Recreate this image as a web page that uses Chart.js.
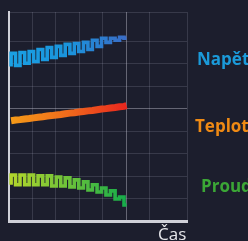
<!DOCTYPE html>
<html>
<head>
<meta charset="utf-8">
<script src="https://cdn.jsdelivr.net/npm/chart.js@4/dist/chart.umd.min.js"></script>
<style>
  html, body { margin: 0; padding: 0; background: #1c1e2d; overflow: hidden; }
  #obal { position: relative; width: 248px; height: 241px; }
  canvas { position: absolute; left: 0; top: 0; }
  .popis { position: absolute; font-family: "Open Sans", sans-serif; font-weight: bold; font-size: 17px; line-height: 17px; white-space: nowrap; }
  #cas { position: absolute; left: 158px; top: 225px; font-family: "Open Sans", sans-serif; font-size: 17px; line-height: 17px; color: #e6e6ea; }
</style>
</head>
<body>
<div id="obal">
  <canvas id="graf" width="248" height="241"></canvas>
  <div class="popis" style="left:197px; top:50px; color:#1b9ad9;">Napětí</div>
  <div class="popis" style="left:195px; top:117px; color:#ef8a14;">Teplota</div>
  <div class="popis" style="left:201px; top:177px; color:#3ba636;">Proud</div>
  <div id="cas">Čas</div>
</div>
<script>
// --- DATA (časová osa a průběhy) ---
const casy = [0.09, 0.28, 0.47, 0.67, 0.86, 1.05, 1.24, 1.44, 1.63, 1.82, 2.02, 2.21, 2.40, 2.60,
              2.79, 2.98, 3.18, 3.37, 3.56, 3.76, 3.95, 4.14, 4.33, 4.53, 4.72, 4.91, 5.02];
const napeti = [6.88, 7.46, 6.92, 7.50, 7.02, 7.54, 7.10, 7.63, 7.19, 7.72, 7.28, 7.77, 7.37, 7.86,
                7.46, 7.90, 7.54, 7.95, 7.63, 8.04, 7.77, 8.13, 7.95, 8.13, 8.04, 8.17, 8.13];
const teplota = [4.46, 4.49, 4.51, 4.54, 4.56, 4.59, 4.62, 4.64, 4.67, 4.69, 4.72, 4.74, 4.77, 4.80,
                 4.82, 4.85, 4.87, 4.90, 4.92, 4.95, 4.98, 5.00, 5.03, 5.05, 5.08, 5.10, 5.13];
const proud = [1.61, 2.05, 1.61, 2.05, 1.61, 2.05, 1.61, 2.01, 1.61, 2.01, 1.56, 1.96, 1.56, 1.92,
               1.52, 1.83, 1.47, 1.74, 1.38, 1.61, 1.29, 1.47, 1.16, 1.34, 0.98, 1.07, 0.71];

const bodySerie = (hodnoty) => hodnoty.map((v, i) => ({ x: casy[i], y: v }));

// přechod barvy zleva doprava podél průběhu
function prechod(barvy) {
    return function(context) {
        const chart = context.chart;
        if (!chart.chartArea) return barvy[0];
        const x0 = chart.scales.x.getPixelForValue(casy[0]);
        const x1 = chart.scales.x.getPixelForValue(casy[casy.length - 1]);
        const g = chart.ctx.createLinearGradient(x0, 0, x1, 0);
        barvy.forEach((b, i) => g.addColorStop(i / (barvy.length - 1), b));
        return g;
    };
}

const barvaMrizky = (ctx) => ctx.tick && ctx.tick.value === 5 ? 'rgba(220,220,235,0.38)' : 'rgba(200,200,225,0.16)';

new Chart(document.getElementById('graf'), {
    type: 'line',
    data: {
        datasets: [
            { label: 'Napětí', data: bodySerie(napeti), stepped: 'after', borderWidth: 3.6,
              borderColor: prechod(['#1aa0e2', '#1a94dc', '#3a6cc6']) },
            { label: 'Teplota', data: bodySerie(teplota), borderWidth: 7, tension: 0,
              borderColor: prechod(['#f49a18', '#f06a1c', '#e8261e']) },
            { label: 'Proud', data: bodySerie(proud), stepped: 'after', borderWidth: 3.6,
              borderColor: prechod(['#b2d62c', '#6cc23a', '#14ac4a']) }
        ]
    },
    options: {
        responsive: false,
        animation: false,
        layout: { padding: { left: 9, right: 61, top: 12, bottom: 20 } },
        elements: { point: { radius: 0 }, line: { borderJoinStyle: 'miter', borderCapStyle: 'butt' } },
        plugins: { legend: { display: false }, tooltip: { enabled: false } },
        scales: {
            x: {
                type: 'linear', min: 0, max: 7.6,
                ticks: { display: false, stepSize: 1 },
                grid: { color: barvaMrizky, drawTicks: false, lineWidth: 1 },
                border: { color: '#cfd0d8', width: 3 }
            },
            y: {
                min: 0, max: 9.3,
                ticks: { display: false, stepSize: 1 },
                grid: { color: barvaMrizky, drawTicks: false, lineWidth: 1 },
                border: { color: '#cfd0d8', width: 2 }
            }
        }
    }
});
</script>
</body>
</html>
